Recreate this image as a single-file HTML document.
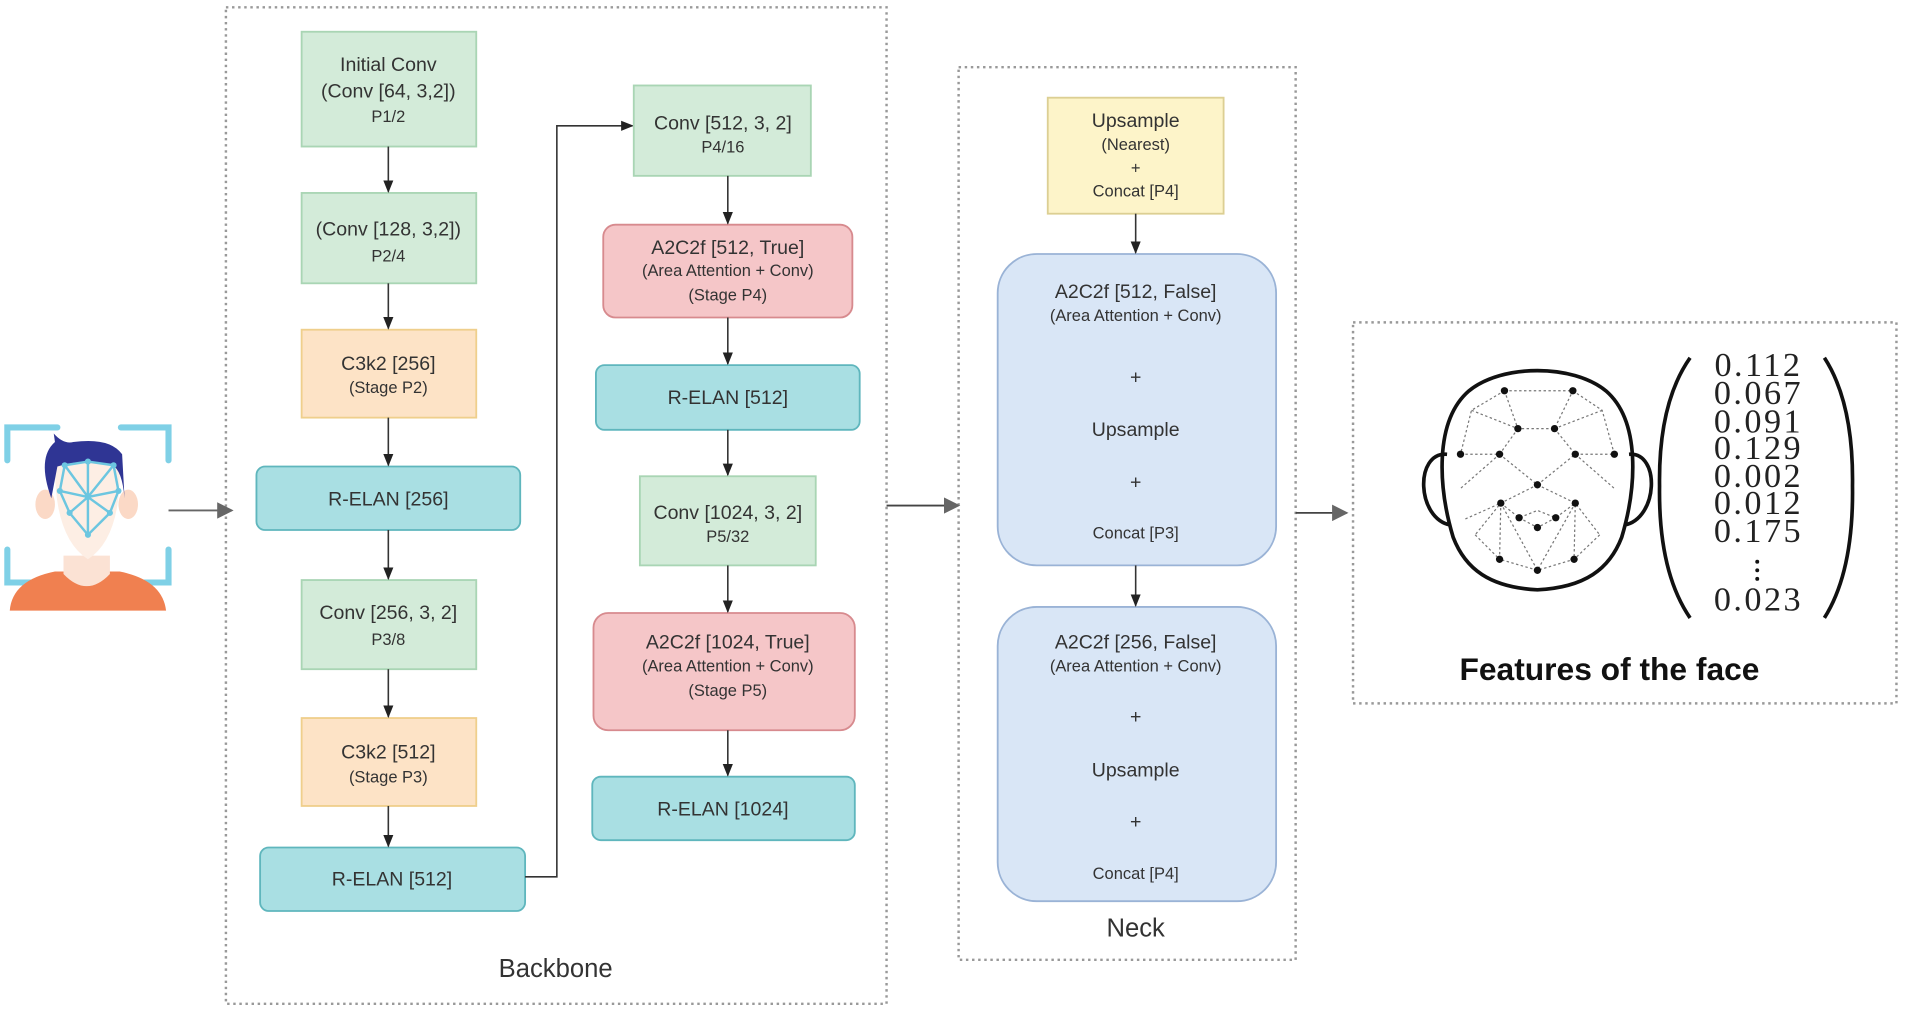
<!DOCTYPE html>
<html><head><meta charset="utf-8"><style>
html,body{margin:0;padding:0;background:#fff;width:1905px;height:1016px;overflow:hidden}
svg{display:block}
text{font-family:"Liberation Sans",sans-serif;fill:#333;text-anchor:middle}
.g{fill:#d3ebd9;stroke:#a9d5b4;stroke-width:1.5}
.o{fill:#fde3c6;stroke:#efcf8c;stroke-width:1.5}
.t{fill:#a9dfe3;stroke:#5fb6bd;stroke-width:1.5}
.r{fill:#f5c6c8;stroke:#d78a8e;stroke-width:1.5}
.y{fill:#fdf4c9;stroke:#dccf93;stroke-width:1.5}
.b{fill:#d9e6f6;stroke:#9ab3d6;stroke-width:1.5}
.l{stroke:#333;stroke-width:1.3;fill:none}
.d{fill:none;stroke:#999;stroke-width:2;stroke-dasharray:2 3}
.m{font-size:16px}.s{font-size:13.5px}
.n{font-family:"Liberation Serif",serif;font-size:28px;fill:#222;letter-spacing:2px}
.fd{stroke:#777;stroke-width:1;stroke-dasharray:2 2;fill:none}
</style></head><body>
<svg width="1905" height="1016" viewBox="0 0 1560 832" xmlns="http://www.w3.org/2000/svg">
<defs><marker id="a" viewBox="0 0 10 10" refX="9" refY="5" markerWidth="8" markerHeight="8" orient="auto"><path d="M0,1 L10,5 L0,9 z" fill="#222"/></marker>
<marker id="a2" viewBox="0 0 10 10" refX="9" refY="5" markerWidth="9" markerHeight="9" orient="auto"><path d="M0,0 L10,5 L0,10 z" fill="#666"/></marker></defs>

<rect class="d" x="185" y="6" width="541" height="816"/>
<rect class="d" x="785" y="55" width="276" height="731"/>
<rect class="d" x="1108" y="264" width="445" height="312"/>
<text x="455" y="800" style="font-size:21px">Backbone</text>
<text x="930" y="767" style="font-size:21px">Neck</text>

<rect class="g" x="247" y="26" width="143" height="94"/>
<text class="m" x="318" y="58">Initial Conv</text><text class="m" x="318" y="80">(Conv [64, 3,2])</text><text class="s" x="318" y="100">P1/2</text>
<rect class="g" x="247" y="158" width="143" height="74"/>
<text class="m" x="318" y="193">(Conv [128, 3,2])</text><text class="s" x="318" y="214">P2/4</text>
<rect class="o" x="247" y="270" width="143" height="72"/>
<text class="m" x="318" y="303">C3k2 [256]</text><text class="s" x="318" y="322">(Stage P2)</text>
<rect class="t" x="210" y="382" width="216" height="52" rx="7"/>
<text class="m" x="318" y="414">R-ELAN [256]</text>
<rect class="g" x="247" y="475" width="143" height="73"/>
<text class="m" x="318" y="507">Conv [256, 3, 2]</text><text class="s" x="318" y="528">P3/8</text>
<rect class="o" x="247" y="588" width="143" height="72"/>
<text class="m" x="318" y="621">C3k2 [512]</text><text class="s" x="318" y="641">(Stage P3)</text>
<rect class="t" x="213" y="694" width="217" height="52" rx="7"/>
<text class="m" x="321" y="725">R-ELAN [512]</text>
<line class="l" x1="318" y1="120" x2="318" y2="157" marker-end="url(#a)"/>
<line class="l" x1="318" y1="232" x2="318" y2="269" marker-end="url(#a)"/>
<line class="l" x1="318" y1="342" x2="318" y2="381" marker-end="url(#a)"/>
<line class="l" x1="318" y1="434" x2="318" y2="474" marker-end="url(#a)"/>
<line class="l" x1="318" y1="548" x2="318" y2="587" marker-end="url(#a)"/>
<line class="l" x1="318" y1="660" x2="318" y2="693" marker-end="url(#a)"/>
<polyline class="l" points="430,718 456,718 456,103 518,103" marker-end="url(#a)"/>

<rect class="g" x="519" y="70" width="145" height="74"/>
<text class="m" x="592" y="106">Conv [512, 3, 2]</text><text class="s" x="592" y="125">P4/16</text>
<rect class="r" x="494" y="184" width="204" height="76" rx="10"/>
<text class="m" x="596" y="208">A2C2f [512, True]</text><text class="s" x="596" y="226">(Area Attention + Conv)</text><text class="s" x="596" y="246">(Stage P4)</text>
<rect class="t" x="488" y="299" width="216" height="53" rx="7"/>
<text class="m" x="596" y="331">R-ELAN [512]</text>
<rect class="g" x="524" y="390" width="144" height="73"/>
<text class="m" x="596" y="425">Conv [1024, 3, 2]</text><text class="s" x="596" y="444">P5/32</text>
<rect class="r" x="486" y="502" width="214" height="96" rx="12"/>
<text class="m" x="596" y="531">A2C2f [1024, True]</text><text class="s" x="596" y="550">(Area Attention + Conv)</text><text class="s" x="596" y="570">(Stage P5)</text>
<rect class="t" x="485" y="636" width="215" height="52" rx="7"/>
<text class="m" x="592" y="668">R-ELAN [1024]</text>
<line class="l" x1="596" y1="144" x2="596" y2="183" marker-end="url(#a)"/>
<line class="l" x1="596" y1="260" x2="596" y2="298" marker-end="url(#a)"/>
<line class="l" x1="596" y1="352" x2="596" y2="389" marker-end="url(#a)"/>
<line class="l" x1="596" y1="463" x2="596" y2="501" marker-end="url(#a)"/>
<line class="l" x1="596" y1="598" x2="596" y2="635" marker-end="url(#a)"/>

<rect class="y" x="858" y="80" width="144" height="95"/>
<text class="m" x="930" y="104">Upsample</text><text class="s" x="930" y="123">(Nearest)</text><text class="s" x="930" y="142">+</text><text class="s" x="930" y="161">Concat [P4]</text>
<rect class="b" x="817" y="208" width="228" height="255" rx="32"/>
<text class="m" x="930" y="244">A2C2f [512, False]</text><text class="s" x="930" y="263">(Area Attention + Conv)</text>
<text class="m" x="930" y="314">+</text><text class="m" x="930" y="357">Upsample</text><text class="m" x="930" y="400">+</text><text class="s" x="930" y="441">Concat [P3]</text>
<rect class="b" x="817" y="497" width="228" height="241" rx="32"/>
<text class="m" x="930" y="531">A2C2f [256, False]</text><text class="s" x="930" y="550">(Area Attention + Conv)</text>
<text class="m" x="930" y="592">+</text><text class="m" x="930" y="636">Upsample</text><text class="m" x="930" y="678">+</text><text class="s" x="930" y="720">Concat [P4]</text>
<line class="l" x1="930" y1="175" x2="930" y2="207" marker-end="url(#a)"/>
<line class="l" x1="930" y1="463" x2="930" y2="496" marker-end="url(#a)"/>

<line x1="138" y1="418" x2="190" y2="418" stroke="#666" stroke-width="1.5" marker-end="url(#a2)"/>
<line x1="726" y1="414" x2="785" y2="414" stroke="#444" stroke-width="1.5" marker-end="url(#a2)"/>
<line x1="1061" y1="420" x2="1103" y2="420" stroke="#444" stroke-width="1.5" marker-end="url(#a2)"/>

<g stroke="#7fd0e6" stroke-width="5" stroke-linecap="round" fill="none">
<path d="M6,377 V350 H47"/><path d="M99,350 H138 V377"/>
<path d="M6,450 V477 H47"/><path d="M138,450 V477 H98"/>
</g>
<path d="M8,500 Q10,475 45,468 L98,468 Q133,475 136,500 Z" fill="#f08050"/>
<path d="M52,455 H90 V470 Q71,490 52,470 Z" fill="#fbe2d4"/>
<ellipse cx="37" cy="413" rx="8" ry="12" fill="#fbd9c6"/><ellipse cx="105" cy="413" rx="8" ry="12" fill="#fbd9c6"/>
<path d="M45,378 Q44,440 72,458 Q100,440 98,378 Z" fill="#fdeee4"/>
<path d="M42,408 Q30,375 45,362 L44,355 Q52,364 60,362 Q90,358 100,372 L102,408 Q100,385 92,381 Q70,375 47,382 Z" fill="#2f3594"/>
<g stroke="#6cc6e0" stroke-width="2" fill="none">
<path d="M53,381 L72,378 L93,381 L97,402 L90,420 L72,438 L57,420 L49,402 Z"/>
<path d="M72,378 V438 M49,402 L72,407 L97,402 M57,420 L72,407 L90,420 M53,381 L72,407 L93,381"/>
</g>
<g fill="#6cc6e0"><circle cx="53" cy="381" r="2.5"/><circle cx="72" cy="378" r="2.5"/><circle cx="93" cy="381" r="2.5"/><circle cx="49" cy="402" r="2.5"/><circle cx="97" cy="402" r="2.5"/><circle cx="57" cy="420" r="2.5"/><circle cx="90" cy="420" r="2.5"/><circle cx="72" cy="438" r="2.5"/><circle cx="72" cy="407" r="2.5"/></g>

<!-- output head -->
<path d="M1190,440 C1178,400 1174,345 1203,320 C1230,298 1288,298 1315,320 C1344,345 1340,400 1328,440 C1318,466 1298,481 1259,483 C1220,481 1200,466 1190,440 Z" fill="none" stroke="#111" stroke-width="3"/>
<path d="M1185,372 C1158,370 1160,425 1188,430" fill="none" stroke="#111" stroke-width="3"/>
<path d="M1334,372 C1360,370 1358,425 1330,430" fill="none" stroke="#111" stroke-width="3"/>
<g class="fd">
<path d="M1232,320 L1288,320 L1312,336 L1322,372 M1232,320 L1205,336 L1196,372 M1232,320 L1243,351 L1273,351 L1288,320 M1205,336 L1243,351 M1312,336 L1273,351 M1196,372 L1228,372 L1259,397 L1290,372 L1322,372 M1243,351 L1228,372 M1273,351 L1290,372 M1228,372 L1196,400 M1290,372 L1322,400 M1259,397 L1229,412 L1208,438 M1259,397 L1290,412 L1310,438 M1229,412 L1244,424 L1259,418 L1274,424 L1290,412 M1244,424 L1259,432 L1274,424 M1229,412 L1228,458 L1259,467 L1289,458 L1290,412 M1208,438 L1228,458 M1310,438 L1289,458 M1229,412 L1259,467 L1290,412 M1200,425 L1229,412"/>
</g>
<g fill="#111"><circle cx="1232" cy="320" r="3"/><circle cx="1288" cy="320" r="3"/><circle cx="1243" cy="351" r="3"/><circle cx="1273" cy="351" r="3"/><circle cx="1196" cy="372" r="3"/><circle cx="1228" cy="372" r="3"/><circle cx="1290" cy="372" r="3"/><circle cx="1322" cy="372" r="3"/><circle cx="1259" cy="397" r="3"/><circle cx="1229" cy="412" r="3"/><circle cx="1290" cy="412" r="3"/><circle cx="1244" cy="424" r="3"/><circle cx="1274" cy="424" r="3"/><circle cx="1259" cy="432" r="3"/><circle cx="1228" cy="458" r="3"/><circle cx="1289" cy="458" r="3"/><circle cx="1259" cy="467" r="3"/></g>

<path d="M1384,293 Q1358,330 1359,398 Q1358,468 1384,506" fill="none" stroke="#111" stroke-width="3"/>
<path d="M1494,293 Q1518,330 1517,398 Q1518,468 1494,506" fill="none" stroke="#111" stroke-width="3"/>
<text class="n" x="1440" y="308">0.112</text><text class="n" x="1440" y="331">0.067</text><text class="n" x="1440" y="354">0.091</text><text class="n" x="1440" y="376">0.129</text><text class="n" x="1440" y="399">0.002</text><text class="n" x="1440" y="421">0.012</text><text class="n" x="1440" y="444">0.175</text><text class="n" x="1440" y="500">0.023</text>
<circle cx="1439" cy="460" r="1.6" fill="#111"/><circle cx="1439" cy="467" r="1.6" fill="#111"/><circle cx="1439" cy="474" r="1.6" fill="#111"/>
<text x="1318" y="557" style="font-family:'Liberation Sans',sans-serif;font-weight:bold;font-size:26px;fill:#111">Features of the face</text>
</svg>
</body></html>
